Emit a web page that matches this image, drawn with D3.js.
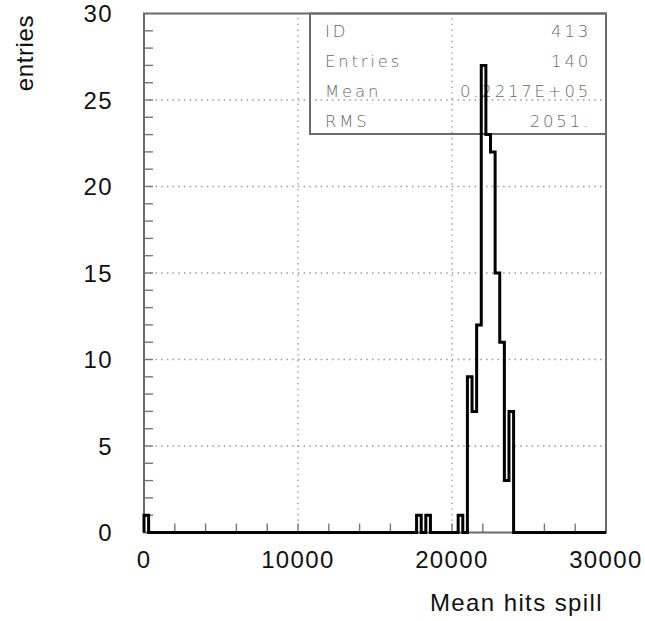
<!DOCTYPE html>
<html>
<head>
<meta charset="utf-8">
<script src="https://cdn.jsdelivr.net/npm/d3@7"></script>
<style>
  html, body { margin: 0; padding: 0; background: #fff; }
  svg { display: block; }
</style>
</head>
<body>
<svg id="chart" width="645" height="621"></svg>
<script>
// ---- data ----
const binWidth = 300;          // 100 bins over 0..30000
const binLows = [0, 17700, 18300, 20400, 21000, 21300, 21600, 21900, 22200, 22500, 22800, 23100, 23400, 23700];
const binCounts = [1, 1, 1, 1, 9, 7, 12, 27, 23, 22, 15, 11, 3, 7];
const xTicks = [0, 10000, 20000, 30000];
const yTicks = [0, 5, 10, 15, 20, 25, 30];
const statNames = ["ID", "Entries", "Mean", "RMS"];
const statValues = ["413", "140", "0.2217E+05", "2051."];
const xTitle = "Mean hits spill";
const yTitle = "entries";

// ---- layout ----
const svg = d3.select("#chart");
const x = d3.scaleLinear().domain([0, 30000]).range([144, 606]);
const y = d3.scaleLinear().domain([0, 30]).range([532.5, 13.5]);
const frameColor = "#6b6b6b";

// full bin array
const nBins = 100;
const counts = new Array(nBins).fill(0);
binLows.forEach((lo, i) => { counts[Math.round(lo / binWidth)] = binCounts[i]; });

// grid (dotted)
const grid = svg.append("g").attr("stroke", "#9a9a9a").attr("stroke-width", 1.3)
  .attr("stroke-dasharray", "1.5,4.2");
d3.range(10000, 30000, 10000).forEach(v => {
  grid.append("line").attr("x1", x(v)).attr("x2", x(v)).attr("y1", y(0)).attr("y2", y(30));
});
d3.range(5, 30, 5).forEach(v => {
  grid.append("line").attr("x1", x(0)).attr("x2", x(30000)).attr("y1", y(v)).attr("y2", y(v));
});

// minor ticks
const ticks = svg.append("g").attr("stroke", "#777").attr("stroke-width", 1.4);
d3.range(1, 30).forEach(v => {
  ticks.append("line").attr("x1", x(0)).attr("x2", x(0) + 9).attr("y1", y(v)).attr("y2", y(v));
});
d3.range(2000, 30000, 2000).forEach(v => {
  ticks.append("line").attr("x1", x(v)).attr("x2", x(v)).attr("y1", y(0)).attr("y2", y(0) - 9);
});

// frame
svg.append("rect").attr("x", x(0)).attr("y", y(30))
  .attr("width", x(30000) - x(0)).attr("height", y(0) - y(30))
  .attr("fill", "none").attr("stroke", frameColor).attr("stroke-width", 2);

// stats box
const bx0 = 310, by0 = 13.5, bx1 = 606, by1 = 134;
svg.append("rect").attr("x", bx0).attr("y", by0).attr("width", bx1 - bx0).attr("height", by1 - by0)
  .attr("fill", "none").attr("stroke", frameColor).attr("stroke-width", 2);
const st = svg.append("g").attr("font-family", "'DejaVu Sans', sans-serif")
  .attr("font-size", 16.5).attr("fill", "#6a6a6a").attr("font-weight", 200)
  .attr("letter-spacing", "2.8px");
statNames.forEach((n, i) => {
  const by = 37 + i * 30;
  st.append("text").attr("x", 325).attr("y", by).text(n);
  st.append("text").attr("x", 591).attr("y", by).attr("text-anchor", "end").text(statValues[i]);
});

// histogram outline
let pts = [[x(0), y(0)]];
counts.forEach((c, i) => {
  pts.push([x(i * binWidth), y(c)]);
  pts.push([x((i + 1) * binWidth), y(c)]);
});
pts.push([x(30000), y(0)]);
svg.append("path").attr("d", d3.line()(pts))
  .attr("fill", "none").attr("stroke", "#000").attr("stroke-width", 3)
  .attr("stroke-linejoin", "miter");

// axis labels
const lab = svg.append("g").attr("font-family", "'Liberation Sans', Arial, sans-serif")
  .attr("font-size", 24).attr("fill", "#111").attr("letter-spacing", "1.4px");
yTicks.forEach(v => {
  lab.append("text").attr("x", 113).attr("y", y(v)).attr("dy", "0.36em")
    .attr("text-anchor", "end").text(v);
});
xTicks.forEach(v => {
  lab.append("text").attr("x", x(v)).attr("y", 568)
    .attr("text-anchor", "middle").text(v);
});
lab.append("text").attr("x", 603).attr("y", 611).attr("text-anchor", "end").text(xTitle);
lab.append("text").attr("transform", "translate(33,15) rotate(-90)")
  .attr("text-anchor", "end").attr("letter-spacing", "0.6px").text(yTitle);
</script>
</body>
</html>
